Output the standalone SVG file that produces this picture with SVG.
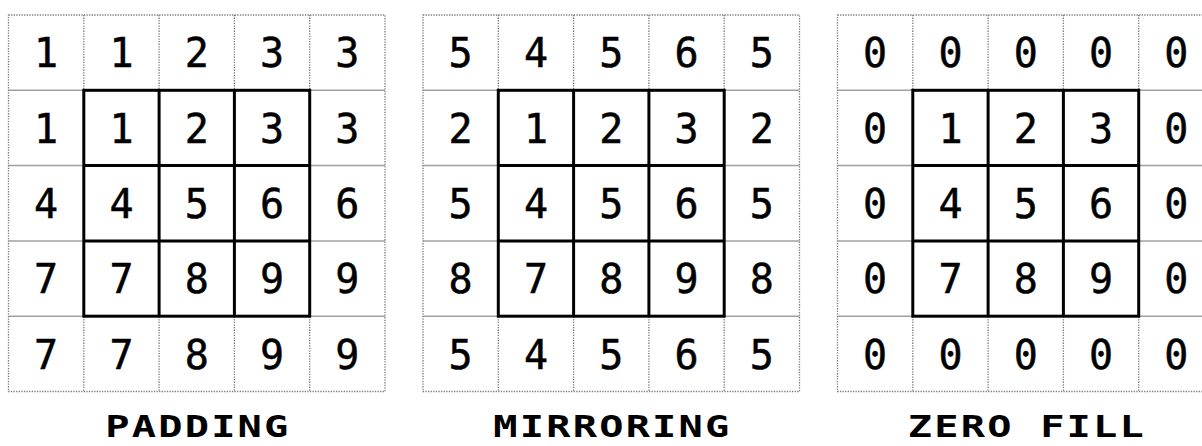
<svg xmlns="http://www.w3.org/2000/svg" xmlns:xlink="http://www.w3.org/1999/xlink" width="1202" height="446" viewBox="0 0 1202 446">
<style>
.dot{fill:none;stroke:#7a7a7a;stroke-width:1.3;stroke-dasharray:1.3 1.3}
.hl{stroke:#a0a0a0;stroke-width:1.5}
.thick{fill:none;stroke:#000;stroke-width:3}
.d{font-family:"DejaVu Sans Mono","Liberation Mono",monospace;font-size:40px;fill:#000;stroke:#000;stroke-width:0.5;text-anchor:middle}
.lbl{font-family:"DejaVu Sans Mono","Liberation Mono",monospace;font-size:31px;font-weight:bold;fill:#000;text-anchor:middle;letter-spacing:1.7px}
</style>
<defs>
<g id="lines">
<line class="hl" x1="0" y1="75.3" x2="376.5" y2="75.3"/>
<line class="hl" x1="0" y1="150.6" x2="376.5" y2="150.6"/>
<line class="hl" x1="0" y1="225.9" x2="376.5" y2="225.9"/>
<line class="hl" x1="0" y1="301.2" x2="376.5" y2="301.2"/>
<line class="dot" x1="75.3" y1="0" x2="75.3" y2="376.5"/>
<line class="dot" x1="150.6" y1="0" x2="150.6" y2="376.5"/>
<line class="dot" x1="225.9" y1="0" x2="225.9" y2="376.5"/>
<line class="dot" x1="301.2" y1="0" x2="301.2" y2="376.5"/>
<rect class="dot" x="0" y="0" width="376.5" height="376.5"/>
<rect class="thick" x="75.3" y="75.3" width="225.9" height="225.9"/>
<line class="thick" x1="150.6" y1="75.3" x2="150.6" y2="301.2"/>
<line class="thick" x1="225.9" y1="75.3" x2="225.9" y2="301.2"/>
<line class="thick" x1="75.3" y1="150.6" x2="301.2" y2="150.6"/>
<line class="thick" x1="75.3" y1="225.9" x2="301.2" y2="225.9"/>
</g>
</defs>
<g id="connectors"></g>
<g id="padding" transform="translate(8.5,15)">
<use xlink:href="#lines" href="#lines"/>
<g class="d">
<text x="37.65" y="52.4">1</text><text x="112.95" y="52.4">1</text><text x="188.25" y="52.4">2</text><text x="263.55" y="52.4">3</text><text x="338.85" y="52.4">3</text>
<text x="37.65" y="127.7">1</text><text x="112.95" y="127.7">1</text><text x="188.25" y="127.7">2</text><text x="263.55" y="127.7">3</text><text x="338.85" y="127.7">3</text>
<text x="37.65" y="203">4</text><text x="112.95" y="203">4</text><text x="188.25" y="203">5</text><text x="263.55" y="203">6</text><text x="338.85" y="203">6</text>
<text x="37.65" y="278.3">7</text><text x="112.95" y="278.3">7</text><text x="188.25" y="278.3">8</text><text x="263.55" y="278.3">9</text><text x="338.85" y="278.3">9</text>
<text x="37.65" y="353.6">7</text><text x="112.95" y="353.6">7</text><text x="188.25" y="353.6">8</text><text x="263.55" y="353.6">9</text><text x="338.85" y="353.6">9</text>
</g>
<text class="lbl" transform="translate(189.4,422) scale(1.3,1)">PADDING</text>
</g>
<g id="mirroring" transform="translate(423,15)">
<use xlink:href="#lines" href="#lines"/>
<g class="d">
<text x="37.65" y="52.4">5</text><text x="112.95" y="52.4">4</text><text x="188.25" y="52.4">5</text><text x="263.55" y="52.4">6</text><text x="338.85" y="52.4">5</text>
<text x="37.65" y="127.7">2</text><text x="112.95" y="127.7">1</text><text x="188.25" y="127.7">2</text><text x="263.55" y="127.7">3</text><text x="338.85" y="127.7">2</text>
<text x="37.65" y="203">5</text><text x="112.95" y="203">4</text><text x="188.25" y="203">5</text><text x="263.55" y="203">6</text><text x="338.85" y="203">5</text>
<text x="37.65" y="278.3">8</text><text x="112.95" y="278.3">7</text><text x="188.25" y="278.3">8</text><text x="263.55" y="278.3">9</text><text x="338.85" y="278.3">8</text>
<text x="37.65" y="353.6">5</text><text x="112.95" y="353.6">4</text><text x="188.25" y="353.6">5</text><text x="263.55" y="353.6">6</text><text x="338.85" y="353.6">5</text>
</g>
<text class="lbl" transform="translate(189.4,422) scale(1.3,1)">MIRRORING</text>
</g>
<g id="zerofill" transform="translate(837.5,15)">
<use xlink:href="#lines" href="#lines"/>
<g class="d">
<text x="37.65" y="52.4">0</text><text x="112.95" y="52.4">0</text><text x="188.25" y="52.4">0</text><text x="263.55" y="52.4">0</text><text x="338.85" y="52.4">0</text>
<text x="37.65" y="127.7">0</text><text x="112.95" y="127.7">1</text><text x="188.25" y="127.7">2</text><text x="263.55" y="127.7">3</text><text x="338.85" y="127.7">0</text>
<text x="37.65" y="203">0</text><text x="112.95" y="203">4</text><text x="188.25" y="203">5</text><text x="263.55" y="203">6</text><text x="338.85" y="203">0</text>
<text x="37.65" y="278.3">0</text><text x="112.95" y="278.3">7</text><text x="188.25" y="278.3">8</text><text x="263.55" y="278.3">9</text><text x="338.85" y="278.3">0</text>
<text x="37.65" y="353.6">0</text><text x="112.95" y="353.6">0</text><text x="188.25" y="353.6">0</text><text x="263.55" y="353.6">0</text><text x="338.85" y="353.6">0</text>
</g>
<text class="lbl" transform="translate(189.4,422) scale(1.3,1)">ZERO FILL</text>
</g>
</svg>
